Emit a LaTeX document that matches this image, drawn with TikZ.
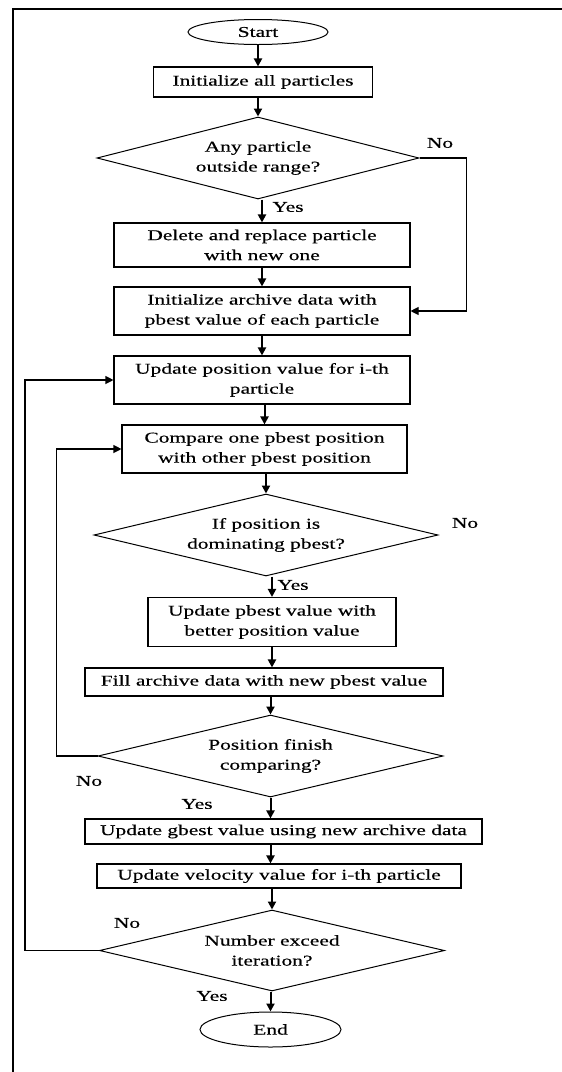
\documentclass[tikz,border=0pt]{standalone}
\usepackage{fontspec}
\setmainfont{Liberation Serif}[FakeStretch=1.43, FakeBold=0.4]
\usetikzlibrary{shapes.geometric, arrows.meta, positioning}

\begin{document}
\begin{tikzpicture}[
    x=1pt, y=-1pt,
    every node/.style={font=\fontsize{15}{20}\selectfont},
    stepbox/.style={draw, line width=1.1pt, align=center, inner sep=2pt},
    decide/.style={draw, diamond, aspect=4, line width=1pt, align=center, inner sep=0pt},
    term/.style={draw, ellipse, line width=1pt, inner sep=1pt},
    lbl/.style={inner sep=0pt},
    arr/.style={-{Triangle[length=8pt,width=8pt]}, line width=2pt},
    backarr/.style={-{Triangle[length=8pt,width=8pt]}, line width=1.1pt}
  ]
  \useasboundingbox (0,0) rectangle (562,1072);
  \draw[line width=2.6pt] (13,1072) -- (13,9) -- (562,9);

  \node[term, minimum width=140pt, minimum height=25pt] (start) at (258,32) {Start};
  \node[stepbox, minimum width=219pt, minimum height=30pt] (init) at (263,82) {Initialize all particles};
  \node[decide, minimum width=322pt, minimum height=82pt] (dec1) at (258,158) {Any particle\\outside range?};
  \node[stepbox, minimum width=296pt, minimum height=44pt] (del) at (262,245) {Delete and replace particle\\with new one};
  \node[stepbox, minimum width=296pt, minimum height=48pt] (arch) at (262,311) {Initialize archive data with\\pbest value of each particle};
  \node[stepbox, minimum width=296pt, minimum height=48pt] (updpos) at (262,380) {Update position value for i-th\\particle};
  \node[stepbox, minimum width=285pt, minimum height=48pt] (cmp) at (264.5,449) {Compare one pbest position\\with other pbest position};
  \node[decide, minimum width=344pt, minimum height=82pt] (dec2) at (266,535) {If position is\\dominating pbest?};
  \node[stepbox, minimum width=248pt, minimum height=49pt] (updpb) at (272,622) {Update pbest value with\\better position value};
  \node[stepbox, minimum width=358pt, minimum height=28pt] (fill) at (264,682) {Fill archive data with new pbest value};
  \node[decide, minimum width=345pt, minimum height=82pt] (dec3) at (270.5,756) {Position finish\\comparing?};
  \node[stepbox, minimum width=397pt, minimum height=25pt] (gbest) at (283.5,831.5) {Update gbest value using new archive data};
  \node[stepbox, minimum width=364pt, minimum height=24pt] (vel) at (279,876) {Update velocity value for i-th particle};
  \node[decide, minimum width=345pt, minimum height=81pt] (dec4) at (272,950.5) {Number exceed\\iteration?};
  \node[term, minimum width=141pt, minimum height=35pt] (end) at (270.5,1029.5) {End};

  \node[lbl] (no1) at (440,143) {No};
  \node[lbl] (yes1) at (288,207) {Yes};
  \node[lbl] (no2) at (465,523) {No};
  \node[lbl] (yes2) at (293,585) {Yes};
  \node[lbl] (no3) at (89,781) {No};
  \node[lbl] (yes3) at (197,804) {Yes};
  \node[lbl] (no4) at (127,923) {No};
  \node[lbl] (yes4) at (212,996) {Yes};

  \draw[arr] (start.south) -- (start.south |- init.north);
  \draw[arr] (init.south -| dec1.north) -- (dec1.north);
  \draw[arr] (dec1.south -| del.north) -- (del.north);
  \draw[arr] (del.south) -- (arch.north);
  \draw[arr] (arch.south) -- (updpos.north);
  \draw[arr] (updpos.south -| cmp.north) -- (cmp.north);
  \draw[arr] (cmp.south -| dec2.north) -- (dec2.north);
  \draw[arr] (dec2.south -| updpb.north) -- (updpb.north);
  \draw[arr] (updpb.south) -- (updpb.south |- fill.north);
  \draw[arr] (fill.south -| dec3.north) -- (dec3.north);
  \draw[arr] (dec3.south) -- (dec3.south |- gbest.north);
  \draw[arr] (gbest.south -| dec3.south) -- (dec3.south |- vel.north);
  \draw[arr] (vel.south -| dec4.north) -- (dec4.north);
  \draw[arr] (dec4.south -| end.north) -- (end.north);

  \draw[backarr] (dec1.east) -- ++(47,0) |- (arch.east);
  \draw[backarr] (dec3.west) -- ++(-41,0) |- (cmp.west);
  \draw[backarr] (dec4.west) -- ++(-74,0) |- (updpos.west);
\end{tikzpicture}
\end{document}
